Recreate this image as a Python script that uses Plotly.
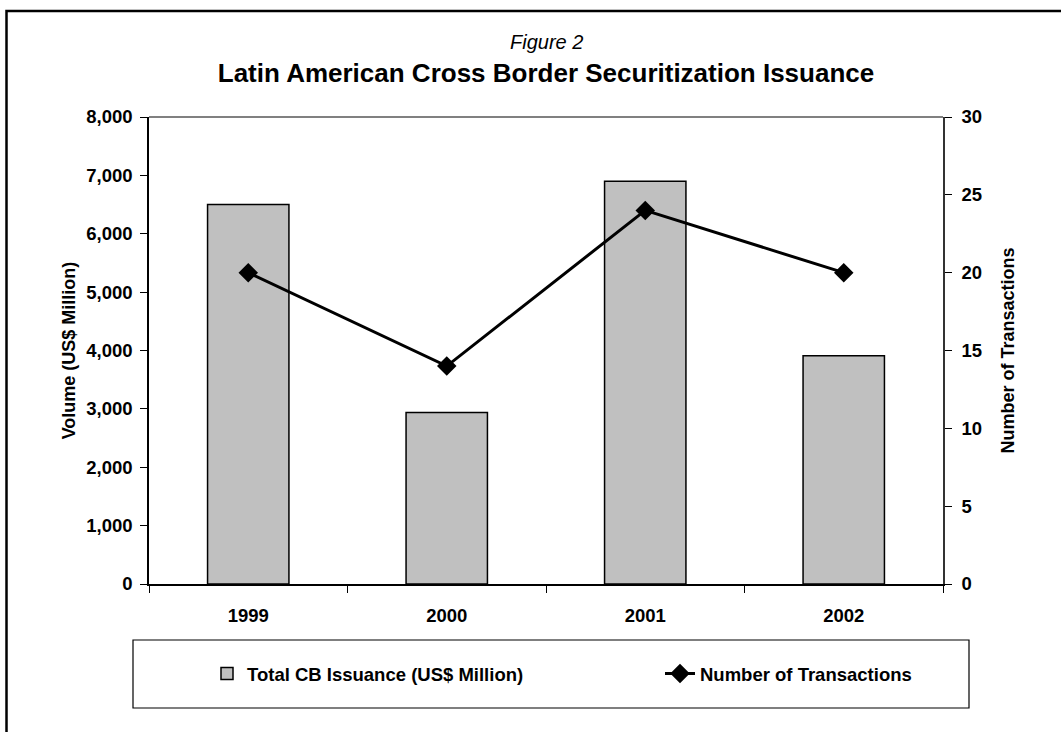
import plotly.graph_objects as go

# Annual cross-border securitization figures
years = ["1999", "2000", "2001", "2002"]
issuance_musd = [6500, 2940, 6900, 3910]
transactions = [20, 14, 24, 20]

vol_ticks = list(range(0, 8001, 1000))
txn_ticks = list(range(0, 31, 5))

FONT = "Liberation Sans, Arial, sans-serif"
W, H = 1061, 732
ML, MR, MT, MB = 149, 118, 117, 148
pw, ph = W - ML - MR, H - MT - MB


def px_x(p):
    return (p - ML) / pw


def px_y(p):
    return (H - MB - p) / ph


fig = go.Figure()

fig.add_trace(go.Bar(
    x=years, y=issuance_musd, name="Total CB Issuance (US$ Million)",
    marker=dict(color="#C0C0C0", line=dict(color="#000000", width=1.5)),
    yaxis="y", legend="legend",
))
fig.add_trace(go.Scatter(
    x=years, y=transactions, name="Number of Transactions",
    mode="lines+markers",
    line=dict(color="#000000", width=3),
    marker=dict(symbol="diamond", size=15, color="#000000"),
    yaxis="y2", legend="legend2",
))

tick_font = dict(family=FONT, size=18.5, color="#000000", weight="bold")
title_font = dict(family=FONT, size=18, color="#000000", weight="bold")
legend_font = dict(family=FONT, size=18.5, color="#000000", weight="bold")

fig.update_layout(
    width=W, height=H,
    margin=dict(l=ML, r=MR, t=MT, b=MB, pad=0),
    paper_bgcolor="#FFFFFF", plot_bgcolor="#FFFFFF",
    font=dict(family=FONT, color="#000000"),
    bargap=0.59,
    showlegend=True,
    title=dict(
        text="Latin American Cross Border Securitization Issuance",
        x=0.5, xanchor="center", xref="paper",
        y=1 - 73 / H, yanchor="middle", yref="container",
        font=dict(family=FONT, size=26, color="#000000", weight="bold"),
    ),
    xaxis=dict(
        type="category", categoryorder="array", categoryarray=years,
        range=[-0.5, len(years) - 0.5],
        showline=True, linecolor="#000000", linewidth=1.5,
        ticks="outside", tickson="boundaries", ticklen=7, tickwidth=1, tickcolor="#000000",
        ticklabelstandoff=14,
        tickfont=tick_font, showgrid=False, zeroline=False,
    ),
    yaxis=dict(
        range=[0, 8000], tickvals=vol_ticks, tickformat=",",
        showline=True, linecolor="#000000", linewidth=1.5,
        ticks="outside", ticklen=7, tickwidth=1, tickcolor="#000000",
        ticklabelstandoff=4,
        tickfont=tick_font, showgrid=False, zeroline=False,
        title=dict(text="Volume (US$ Million)", font=title_font, standoff=6),
    ),
    yaxis2=dict(
        overlaying="y", side="right",
        range=[0, 30], tickvals=txn_ticks,
        showline=True, linecolor="#333333", linewidth=1.5,
        ticks="outside", ticklen=7, tickwidth=1, tickcolor="#000000",
        ticklabelstandoff=6,
        tickfont=tick_font, showgrid=False, zeroline=False,
        title=dict(text="Number of Transactions", font=title_font, standoff=20),
    ),
    # inward halves of the crossing tick marks
    yaxis3=dict(
        overlaying="y", side="left", range=[0, 8000], tickvals=vol_ticks,
        ticks="inside", ticklen=7, tickwidth=1, tickcolor="#000000",
        showticklabels=False, showline=False, showgrid=False, zeroline=False,
    ),
    yaxis4=dict(
        overlaying="y", side="right", range=[0, 30], tickvals=txn_ticks,
        ticks="inside", ticklen=7, tickwidth=1, tickcolor="#000000",
        showticklabels=False, showline=False, showgrid=False, zeroline=False,
    ),
    legend=dict(
        orientation="h",
        x=px_x(207), xanchor="left",
        y=px_y(674), yanchor="middle",
        font=legend_font, bgcolor="rgba(0,0,0,0)", borderwidth=0,
    ),
    legend2=dict(
        orientation="h",
        x=px_x(660), xanchor="left",
        y=px_y(674), yanchor="middle",
        font=legend_font, bgcolor="rgba(0,0,0,0)", borderwidth=0,
    ),
)

# gray top edge of the plot area
fig.add_shape(type="line", xref="paper", yref="paper", x0=0, x1=1, y0=1, y1=1,
              line=dict(color="#808080", width=2), layer="above")
# legend frame
fig.add_shape(type="rect", xref="paper", yref="paper",
              x0=px_x(133), x1=px_x(969), y0=px_y(708), y1=px_y(640),
              line=dict(color="#000000", width=1.2), layer="below")
# outer chart frame
fig.add_shape(type="rect", xref="paper", yref="paper",
              x0=px_x(6.5), x1=px_x(1070), y0=px_y(745), y1=px_y(11),
              line=dict(color="#000000", width=2.5), layer="below")

fig.add_annotation(
    text="<i>Figure 2</i>", xref="paper", yref="paper",
    x=0.5, y=px_y(42), xanchor="center", yanchor="middle", showarrow=False,
    font=dict(family=FONT, size=20, color="#000000"),
)

fig.write_html("out.html")
